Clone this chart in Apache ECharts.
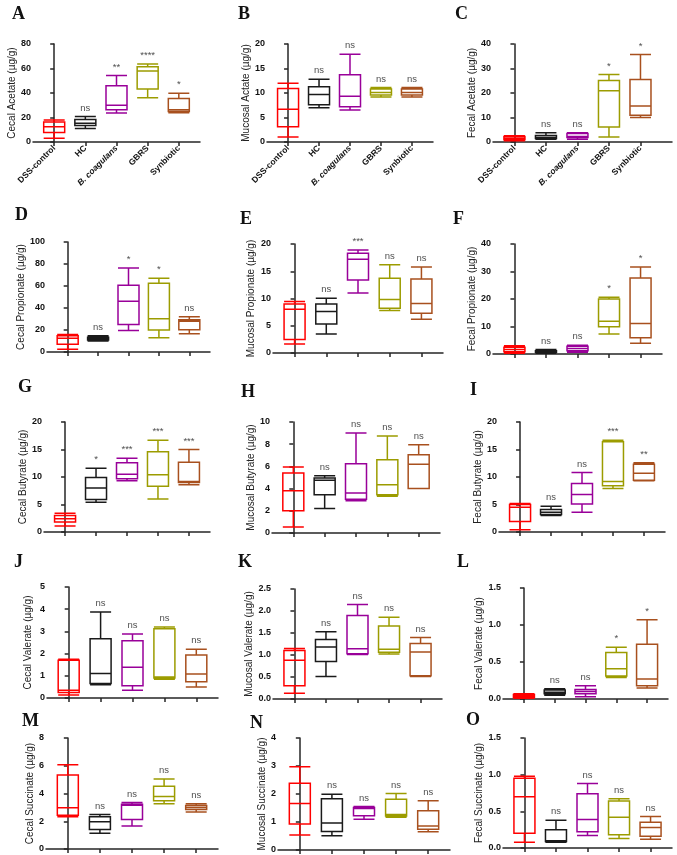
<!DOCTYPE html>
<html><head><meta charset="utf-8">
<script src="https://cdn.jsdelivr.net/npm/echarts@6/dist/echarts.min.js"></script>
<style>html,body{margin:0;padding:0;background:#fff}#c{width:677px;height:855px}</style>
</head><body><div id="c"></div>
<script>
// ---------- DATA ----------
const groups = ['DSS-control', 'HC', 'B. coagulans', 'GBRS', 'Synbiotic'];
// each row: [min, Q1, median, Q3, max] per group
const cecalAcetate      = [[3.0,7.7,12.4,16.4,18.0],[11.0,13.4,15.3,18.4,20.8],[23.6,26.3,29.9,46.0,54.2],[36.2,43.3,58.0,61.4,63.6],[23.8,24.9,26.3,35.6,39.7]];
const cecalAcetateSig   = ['', 'ns', '**', '****', '*'];
const mucosalAcetate    = [[1.0,3.1,6.7,10.9,12.0],[7.0,7.6,9.7,11.3,12.8],[6.55,7.2,9.35,13.7,17.9],[9.2,9.6,10.1,10.8,11.1],[9.2,9.6,10.1,10.8,11.1]];
const mucosalAcetateSig = ['', 'ns', 'ns', 'ns', 'ns'];
const fecalAcetate      = [[0.5,0.9,1.5,2.2,2.6],[1.1,1.4,1.8,2.7,3.8],[1.1,1.8,2.2,3.5,3.8],[2.0,6.1,20.9,25.1,27.6],[10.0,10.9,14.7,25.5,35.7]];
const fecalAcetateSig   = ['', 'ns', 'ns', '*', '*'];
const cecalPropionate   = [[2.5,7.0,12.4,14.8,16.0],[10.0,11.0,12.2,13.3,14.8],[19.6,25.0,46.2,60.7,76.4],[13.0,19.9,30.2,62.5,67.0],[16.6,20.2,28.0,29.3,32.0]];
const cecalPropionateSig = ['', 'ns', '*', '*', 'ns'];
const mucosalPropionate = [[1.65,2.5,8.05,9.0,9.45],[3.5,5.3,7.6,9.0,10.06],[11.0,13.4,17.2,18.3,18.9],[7.8,8.2,9.8,13.7,16.2],[6.2,7.3,9.1,13.6,15.8]];
const mucosalPropionateSig = ['', 'ns', '***', 'ns', 'ns'];
const fecalPropionate   = [[0.3,0.8,1.6,2.5,3.0],[0.3,0.6,0.9,1.2,1.6],[0.6,1.2,2.0,2.8,3.2],[7.3,9.9,11.9,20.0,20.6],[3.9,5.9,11.1,27.6,31.6]];
const fecalPropionateSig = ['', 'ns', 'ns', '*', '*'];
const cecalButyrate     = [[1.1,1.8,2.4,3.0,3.4],[5.4,5.9,8.0,9.9,11.6],[9.3,9.7,10.5,12.6,13.4],[6.0,8.3,10.4,14.6,16.7],[8.6,9.0,9.2,12.7,15.0]];
const cecalButyrateSig  = ['', '*', '***', '***', '***'];
const mucosalButyrate   = [[0.55,2.0,3.8,5.4,5.95],[2.2,3.45,4.75,4.95,5.15],[2.9,3.05,3.6,6.25,9.0],[3.3,3.45,4.35,6.6,8.75],[4.0,4.0,6.2,7.05,7.95]];
const mucosalButyrateSig = ['', 'ns', 'ns', 'ns', 'ns'];
const fecalButyrate     = [[0.4,1.9,4.5,5.0,5.2],[3.0,3.2,3.6,4.1,4.7],[3.6,5.1,6.8,8.8,10.8],[7.9,8.4,9.2,16.4,16.7],[9.3,9.4,10.7,12.3,12.6]];
const fecalButyrateSig  = ['', 'ns', 'ns', '***', '**'];
const cecalValerate     = [[0.13,0.25,0.35,1.7,1.75],[0.6,0.65,1.1,2.67,3.87],[0.35,0.55,1.38,2.58,2.88],[0.85,0.9,0.95,3.12,3.2],[0.5,0.73,1.08,1.94,2.2]];
const cecalValerateSig  = ['', 'ns', 'ns', 'ns', 'ns'];
const mucosalValerate   = [[0.13,0.3,0.88,1.1,1.15],[0.51,0.85,1.18,1.35,1.53],[1.01,1.03,1.14,1.9,2.15],[1.02,1.06,1.13,1.66,1.86],[0.51,0.53,1.07,1.26,1.4]];
const mucosalValerateSig = ['', 'ns', 'ns', 'ns', 'ns'];
const fecalValerate     = [[0.01,0.02,0.04,0.06,0.07],[0.05,0.07,0.09,0.12,0.14],[0.03,0.07,0.1,0.13,0.18],[0.29,0.31,0.41,0.63,0.7],[0.15,0.18,0.27,0.74,1.07]];
const fecalValerateSig  = ['', 'ns', 'ns', '*', '*'];
const cecalSuccinate    = [[2.32,2.44,2.97,5.34,6.08],[1.13,1.41,1.96,2.32,2.49],[1.65,2.13,3.16,3.23,3.35],[3.26,3.47,3.78,4.53,5.05],[2.66,2.85,2.99,3.14,3.26]];
const cecalSuccinateSig = ['', 'ns', 'ns', 'ns', 'ns'];
const mucosalSuccinate  = [[0.54,0.93,1.66,2.38,2.97],[0.51,0.66,0.96,1.83,1.99],[1.1,1.22,1.48,1.52,1.55],[1.17,1.21,1.27,1.81,2.02],[0.65,0.74,0.86,1.4,1.76]];
const mucosalSuccinateSig = ['', 'ns', 'ns', 'ns', 'ns'];
const fecalSuccinate    = [[0.08,0.2,0.7,0.95,0.98],[0.08,0.09,0.1,0.25,0.38],[0.17,0.22,0.39,0.74,0.88],[0.13,0.18,0.42,0.64,0.67],[0.12,0.16,0.28,0.35,0.43]];
const fecalSuccinateSig = ['', 'ns', 'ns', 'ns', 'ns'];

// y-axis scales (max, step) and names
const yMaxes  = [80, 20, 40, 100, 20, 40, 20, 10, 20, 5, 2.5, 1.5, 8, 4, 1.5];
const ySteps  = [20, 5, 10, 20, 5, 10, 5, 2, 5, 1, 0.5, 0.5, 2, 1, 0.5];
const yNames  = ['Cecal Acetate (µg/g)','Mucosal Actate (µg/g)','Fecal Acetate (µg/g)',
  'Cecal Propionate (µg/g)','Mucosal Propionate (µg/g)','Fecal Propionate (µg/g)',
  'Cecal Butyrate (µg/g)','Mucosal Butyrate (µg/g)','Fecal Butyrate (µg/g)',
  'Cecal Valerate (µg/g)','Mucosal Valerate (µg/g)','Fecal Valerate (µg/g)',
  'Cecal Succinate (µg/g)','Mucosal Succinate (µg/g)','Fecal Succinate (µg/g)'];
const letters = ['A','B','C','D','E','F','G','H','I','J','K','L','M','N','O'];
const panelBoxes = [cecalAcetate, mucosalAcetate, fecalAcetate, cecalPropionate, mucosalPropionate, fecalPropionate,
  cecalButyrate, mucosalButyrate, fecalButyrate, cecalValerate, mucosalValerate, fecalValerate,
  cecalSuccinate, mucosalSuccinate, fecalSuccinate];
const panelSigs = [cecalAcetateSig, mucosalAcetateSig, fecalAcetateSig, cecalPropionateSig, mucosalPropionateSig, fecalPropionateSig,
  cecalButyrateSig, mucosalButyrateSig, fecalButyrateSig, cecalValerateSig, mucosalValerateSig, fecalValerateSig,
  cecalSuccinateSig, mucosalSuccinateSig, fecalSuccinateSig];

// ---------- LAYOUT / STYLE ----------
const groupColors = ['#FF0000', '#1a1a1a', '#990099', '#9C9C00', '#A8501E'];
const axisColor = '#262626';
// left, top, width, height, nameGap, xMax, letter x, letter y
const layout = [
  [33, 44, 167, 98, 15, 4.68, 12, 5], [267, 44, 166, 98, 16, 4.68, 238, 5], [493, 44, 179, 98, 14, 5.0, 455, 5],
  [47, 242, 163, 110, 19, 4.68, 15, 206], [273, 244, 170, 109, 17, 4.68, 240, 210], [493, 244, 169, 110, 15, 4.68, 453, 210],
  [44, 422, 166, 110, 14, 4.68, 18, 378], [272, 422, 168, 111, 14, 4.68, 241, 383], [499, 422, 166, 110, 15, 4.68, 470, 381],
  [47, 587, 171, 111, 14, 4.68, 14, 553], [273, 589, 169, 110, 16, 4.68, 238, 553], [503, 588, 165, 111, 16, 4.68, 457, 553],
  [46, 738, 172, 111, 11, 4.68, 22, 712], [278, 738, 172, 112, 11, 4.68, 250, 714], [503, 738, 169, 110, 15, 4.68, 466, 711]
];

const chart = echarts.init(document.getElementById('c'));
const grids = [], xAxes = [], yAxes = [], series = [], graphics = [];
const idx = groups.map((g, i) => i);
const FONT = 'Liberation Sans, Arial, sans-serif';

panelBoxes.forEach((boxes, k) => {
  const [left, top, width, height, nameGap, xMax, lx, ly] = layout[k];
  const dec = ySteps[k] < 1;
  grids.push({ left, top, width, height });
  xAxes.push({
    gridIndex: k, type: 'value', min: -0.68, max: xMax,
    splitLine: { show: false },
    axisLine: { show: true, onZero: false, lineStyle: { color: axisColor, width: 1.5 } },
    axisTick: { show: true, customValues: idx, length: 4, lineStyle: { color: axisColor, width: 1.5 } },
    axisLabel: k < 3 ? {
      show: true, customValues: idx, rotate: 45, margin: 5, color: '#111',
      formatter: v => (v === 2 ? '{i|' : '{b|') + groups[v] + '}',
      rich: {
        b: { fontFamily: FONT, fontWeight: 'bold', fontSize: 8.5, color: '#111' },
        i: { fontFamily: FONT, fontWeight: 'bold', fontStyle: 'italic', fontSize: 8.5, color: '#111' }
      }
    } : { show: false }
  });
  yAxes.push({
    gridIndex: k, type: 'value', min: 0, max: yMaxes[k], interval: ySteps[k],
    splitLine: { show: false },
    axisLine: { show: true, lineStyle: { color: axisColor, width: 1.5 } },
    axisTick: { show: true, length: 4, lineStyle: { color: axisColor, width: 1.5 } },
    axisLabel: { margin: 2, fontFamily: FONT, fontWeight: 'bold', fontSize: 9, color: '#111',
      formatter: v => dec ? v.toFixed(1) : String(v) },
    name: yNames[k], nameLocation: 'middle', nameGap: nameGap, nameRotate: 90,
    nameTextStyle: { fontFamily: FONT, fontSize: 10, color: '#222' }
  });
  series.push({
    type: 'boxplot', xAxisIndex: k, yAxisIndex: k, boxWidth: [21, 21],
    silent: true,
    itemStyle: { color: 'rgba(255,255,255,0)', borderWidth: 1.5 },
    emphasis: { disabled: true },
    data: boxes.map((b, i) => ({ value: [i].concat(b), itemStyle: { borderColor: groupColors[i] } }))
  });
  const sig = panelSigs[k];
  series.push({
    type: 'scatter', xAxisIndex: k, yAxisIndex: k, symbolSize: 1, silent: true,
    itemStyle: { color: 'rgba(0,0,0,0)' },
    label: { show: true, position: 'top', distance: 3, fontFamily: FONT, fontSize: 9.5, color: '#222',
      formatter: p => sig[p.dataIndex] },
    data: boxes.map((b, i) => [i, b[4]])
  });
  graphics.push({ type: 'text', left: lx, top: ly,
    style: { text: letters[k], font: 'bold 18px "Liberation Serif", "Times New Roman", serif', fill: '#111' } });
});

chart.setOption({
  animation: false,
  backgroundColor: '#fff',
  grid: grids, xAxis: xAxes, yAxis: yAxes, series: series, graphic: graphics
});
</script></body></html>
